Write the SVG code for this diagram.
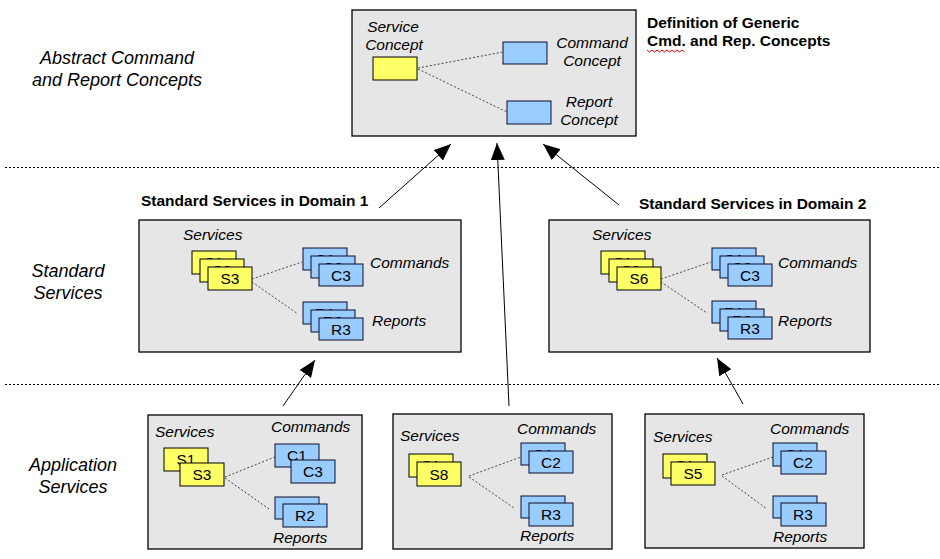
<svg xmlns="http://www.w3.org/2000/svg" width="940" height="559" viewBox="0 0 940 559">
<style>
text{font-family:"Liberation Sans",Arial,sans-serif;fill:#000}
.grp{fill:#e6e6e6;stroke:#000;stroke-width:1.3}
.y{fill:#ffff66;stroke:#000;stroke-width:1}
.b{fill:#99ccff;stroke:#0a0a2a;stroke-width:1}
.bt{font-size:15.5px;text-anchor:middle}
.it{font-size:15.5px;font-style:italic}
.itc{font-size:15.5px;font-style:italic;text-anchor:middle}
.big{font-size:18px;font-style:italic;text-anchor:middle}
.hd{font-size:15.5px;font-weight:bold}
.dot{stroke:#444;stroke-width:1;stroke-dasharray:2 2;fill:none}
.sep{stroke:#000;stroke-width:1;stroke-dasharray:2 2;fill:none}
.arr{stroke:#000;stroke-width:1;fill:none;marker-end:url(#ah)}
</style>
<defs>
<marker id="ah" markerUnits="userSpaceOnUse" markerWidth="18" markerHeight="14" refX="17" refY="7" orient="auto">
<path d="M0,0 L17,7 L0,14 z" fill="#000"/>
</marker>
</defs>
<rect width="940" height="559" fill="#fff"/>

<g id="layers">
<line class="sep" x1="5" y1="167.5" x2="940" y2="167.5"/>
<line class="sep" x1="5" y1="384.5" x2="940" y2="384.5"/>
<text class="big" x="117" y="64">Abstract Command</text>
<text class="big" x="117" y="86">and Report Concepts</text>
<text class="big" x="68" y="277">Standard</text>
<text class="big" x="68" y="299">Services</text>
<text class="big" x="73" y="471">Application</text>
<text class="big" x="73" y="493">Services</text>
</g>

<g id="generic">
<rect class="grp" x="352" y="10" width="284" height="126"/>
<text class="itc" x="393" y="32">Service</text>
<text class="itc" x="394" y="50">Concept</text>
<rect class="y" x="373" y="57" width="44" height="23"/>
<rect class="b" x="503" y="42" width="44" height="22"/>
<rect class="b" x="507" y="101" width="44" height="23"/>
<text class="itc" x="592" y="48">Command</text>
<text class="itc" x="592" y="66">Concept</text>
<text class="itc" x="589" y="107">Report</text>
<text class="itc" x="589" y="125">Concept</text>
<line class="dot" x1="418" y1="68" x2="503" y2="52"/>
<line class="dot" x1="418" y1="69" x2="507" y2="112"/>
<text class="hd" x="647" y="28">Definition of Generic</text>
<text class="hd" x="647" y="46">Cmd. and Rep. Concepts</text>
<path d="M647,50 l2.5,2 2.5,-2 2.5,2 2.5,-2 2.5,2 2.5,-2 2.5,2 2.5,-2 2.5,2 2.5,-2 2.5,2 2.5,-2 2.5,2 2.5,-2 2.5,2" fill="none" stroke="#e00000" stroke-width="1"/>
</g>

<g id="domain1">
<text class="hd" x="141" y="206">Standard Services in Domain 1</text>
<rect class="grp" x="139" y="220" width="322" height="132"/>
<text class="it" x="183" y="240">Services</text>
<rect class="y" x="192" y="251" width="44" height="23"/><text class="bt" x="214" y="268">S1</text>
<rect class="y" x="200" y="259" width="44" height="23"/><text class="bt" x="222" y="276">S2</text>
<rect class="y" x="208" y="267" width="44" height="23"/><text class="bt" x="230" y="284">S3</text>
<rect class="b" x="303" y="248" width="44" height="22"/><text class="bt" x="325" y="265">C1</text>
<rect class="b" x="311" y="256" width="44" height="22"/><text class="bt" x="333" y="273">C2</text>
<rect class="b" x="319" y="264" width="44" height="22"/><text class="bt" x="341" y="281">C3</text>
<rect class="b" x="303" y="302" width="44" height="22"/><text class="bt" x="325" y="319">R1</text>
<rect class="b" x="311" y="310" width="44" height="22"/><text class="bt" x="333" y="327">R2</text>
<rect class="b" x="319" y="318" width="44" height="22"/><text class="bt" x="341" y="335">R3</text>
<text class="it" x="370" y="268">Commands</text>
<text class="it" x="372" y="326">Reports</text>
<line class="dot" x1="252" y1="279" x2="302" y2="262"/>
<line class="dot" x1="252" y1="282" x2="298" y2="314"/>
</g>

<g id="domain2">
<text class="hd" x="639" y="209">Standard Services in Domain 2</text>
<rect class="grp" x="549" y="220" width="321" height="132"/>
<text class="it" x="592" y="240">Services</text>
<rect class="y" x="601" y="251" width="44" height="23"/><text class="bt" x="623" y="268">S1</text>
<rect class="y" x="609" y="259" width="44" height="23"/><text class="bt" x="631" y="276">S2</text>
<rect class="y" x="617" y="267" width="44" height="23"/><text class="bt" x="639" y="284">S6</text>
<rect class="b" x="712" y="248" width="44" height="22"/><text class="bt" x="734" y="265">C1</text>
<rect class="b" x="720" y="256" width="44" height="22"/><text class="bt" x="742" y="273">C2</text>
<rect class="b" x="728" y="264" width="44" height="22"/><text class="bt" x="750" y="281">C3</text>
<rect class="b" x="712" y="301" width="44" height="22"/><text class="bt" x="734" y="318">R1</text>
<rect class="b" x="720" y="309" width="44" height="22"/><text class="bt" x="742" y="326">R2</text>
<rect class="b" x="728" y="317" width="44" height="22"/><text class="bt" x="750" y="334">R3</text>
<text class="it" x="778" y="268">Commands</text>
<text class="it" x="778" y="326">Reports</text>
<line class="dot" x1="661" y1="279" x2="711" y2="262"/>
<line class="dot" x1="661" y1="282" x2="707" y2="313"/>
</g>

<g id="app1">
<rect class="grp" x="148" y="415" width="214" height="134"/>
<text class="it" x="155" y="437">Services</text>
<text class="it" x="271" y="432">Commands</text>
<text class="it" x="273" y="543">Reports</text>
<rect class="y" x="164" y="448" width="44" height="23"/><text class="bt" x="186" y="465">S1</text>
<rect class="y" x="180" y="463" width="44" height="23"/><text class="bt" x="202" y="480">S3</text>
<rect class="b" x="275" y="444" width="44" height="23"/><text class="bt" x="297" y="461">C1</text>
<rect class="b" x="291" y="460" width="44" height="23"/><text class="bt" x="313" y="477">C3</text>
<rect class="b" x="275" y="497" width="44" height="22"/><text class="bt" x="297" y="514">R1</text>
<rect class="b" x="283" y="504" width="44" height="23"/><text class="bt" x="305" y="521">R2</text>
<line class="dot" x1="225" y1="477" x2="275" y2="457"/>
<line class="dot" x1="225" y1="478" x2="269" y2="509"/>
</g>

<g id="app2">
<rect class="grp" x="393" y="414" width="219" height="135"/>
<text class="it" x="400" y="441">Services</text>
<text class="it" x="517" y="434">Commands</text>
<text class="it" x="520" y="541">Reports</text>
<rect class="y" x="409" y="454" width="44" height="23"/><text class="bt" x="431" y="471">S1</text>
<rect class="y" x="417" y="462" width="44" height="24"/><text class="bt" x="439" y="480">S8</text>
<rect class="b" x="521" y="443" width="44" height="22"/><text class="bt" x="543" y="460">C1</text>
<rect class="b" x="529" y="451" width="44" height="22"/><text class="bt" x="551" y="468">C2</text>
<rect class="b" x="521" y="496" width="44" height="22"/><text class="bt" x="543" y="513">R2</text>
<rect class="b" x="529" y="503" width="44" height="23"/><text class="bt" x="551" y="520">R3</text>
<line class="dot" x1="469" y1="476" x2="521" y2="457"/>
<line class="dot" x1="469" y1="477" x2="514" y2="508"/>
</g>

<g id="app3">
<rect class="grp" x="645" y="414" width="219" height="134"/>
<text class="it" x="653" y="442">Services</text>
<text class="it" x="770" y="434">Commands</text>
<text class="it" x="773" y="542">Reports</text>
<rect class="y" x="663" y="454" width="44" height="24"/><text class="bt" x="685" y="471">S1</text>
<rect class="y" x="671" y="462" width="44" height="23"/><text class="bt" x="693" y="479">S5</text>
<rect class="b" x="773" y="443" width="44" height="23"/><text class="bt" x="795" y="460">C1</text>
<rect class="b" x="781" y="451" width="45" height="23"/><text class="bt" x="803" y="468">C2</text>
<rect class="b" x="773" y="496" width="44" height="22"/><text class="bt" x="795" y="513">R2</text>
<rect class="b" x="781" y="503" width="45" height="23"/><text class="bt" x="803" y="520">R3</text>
<line class="dot" x1="722" y1="475" x2="773" y2="457"/>
<line class="dot" x1="722" y1="476" x2="767" y2="509"/>
</g>

<g id="connectors">
<line class="arr" x1="379" y1="208" x2="451" y2="144"/>
<line class="arr" x1="509" y1="406" x2="497" y2="143"/>
<line class="arr" x1="619" y1="205" x2="543" y2="144"/>
<line class="arr" x1="283" y1="406" x2="315" y2="360"/>
<line class="arr" x1="743" y1="404" x2="717" y2="358"/>
</g>
</svg>
